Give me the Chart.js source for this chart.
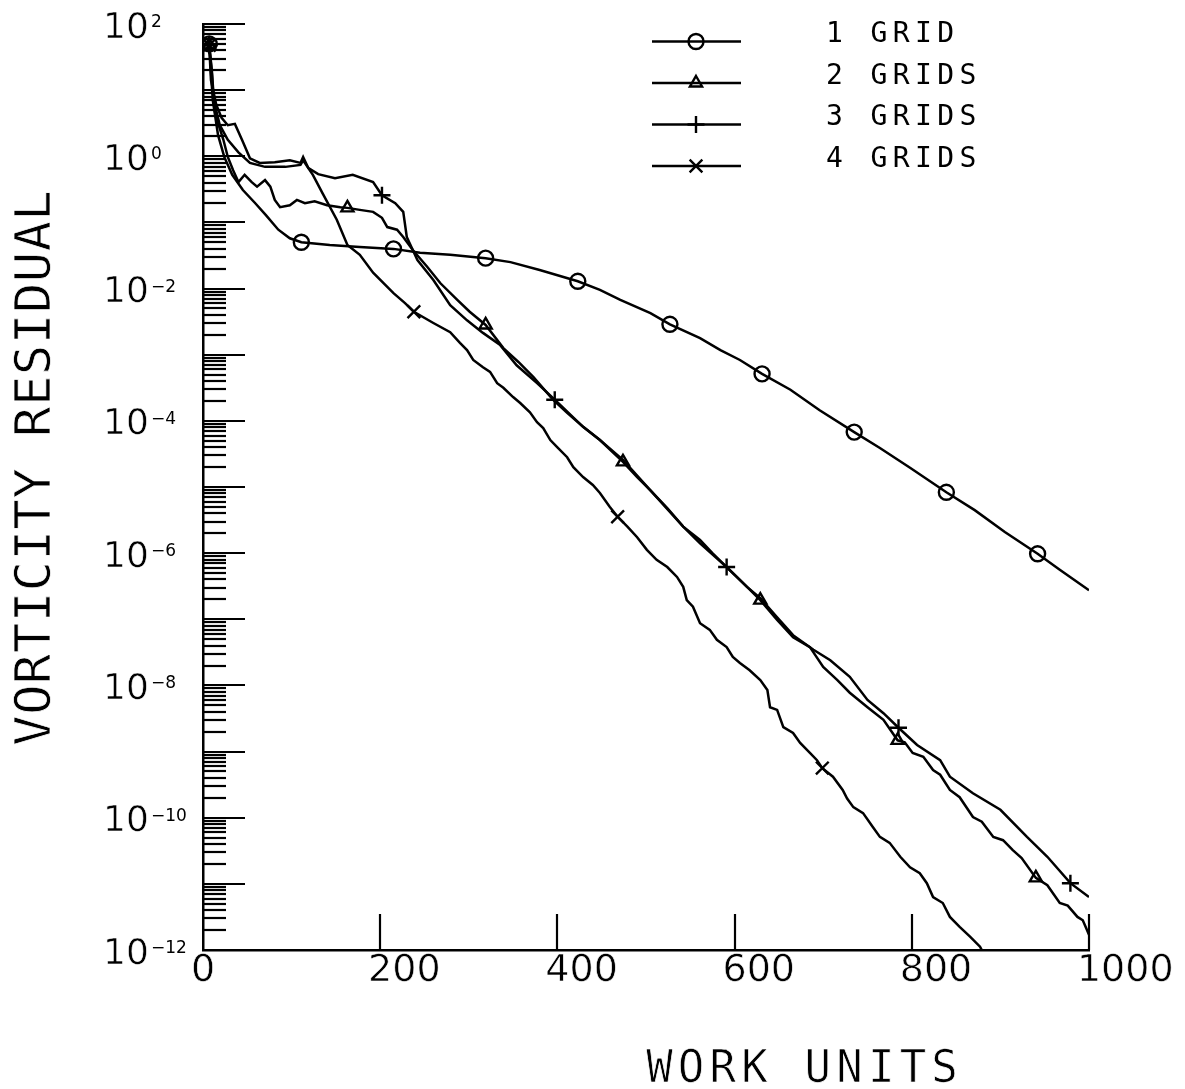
<!DOCTYPE html>
<html>
<head>
<meta charset="utf-8">
<title>Vorticity residual vs work units</title>
<script src="https://cdn.jsdelivr.net/npm/chart.js@4.4.1/dist/chart.umd.min.js"></script>
<style>
  html, body { margin: 0; padding: 0; background: #fff; }
  #wrap { width: 1185px; height: 1089px; }
</style>
</head>
<body>
<div id="wrap"><canvas id="residualChart" width="1185" height="1089"></canvas></div>
<script>
// work units (x) and log10 of the vorticity residual (y) for each run,
// plus the work units where the run's symbol is plotted
const grid1X = [7, 11, 17, 24, 33, 45, 59, 71, 85, 98, 111, 143, 177, 215, 245, 279, 319, 347, 380, 403,
  423, 448, 471, 505, 527, 561, 584, 606, 631, 663, 696, 735, 764, 798, 839, 871, 905, 942, 967, 1000];
const grid1Log = [1.70, 0.85, 0.32, -0.01, -0.28, -0.51, -0.71, -0.89, -1.11, -1.24, -1.30, -1.34, -1.37, -1.40, -1.46, -1.49, -1.54, -1.60, -1.72, -1.81,
  -1.89, -2.02, -2.17, -2.37, -2.54, -2.75, -2.93, -3.08, -3.29, -3.53, -3.84, -4.17, -4.41, -4.71, -5.08, -5.35, -5.68, -6.01, -6.25, -6.56];
const grid1Marks = [7, 111, 215, 319, 423, 527, 631, 735, 839, 942];

const grid2X = [7, 10, 13, 17, 23, 28, 34, 40, 47, 55, 61, 70, 76, 81, 87, 98, 106, 115, 126, 140,
  155, 163, 177, 192, 202, 208, 219, 226, 237, 253, 268, 287, 301, 319, 339, 356, 373, 395, 411, 429,
  448, 462, 474, 490, 505, 524, 542, 561, 575, 591, 614, 629, 648, 666, 685, 700, 716, 730, 750, 768,
  784, 792, 801, 813, 824, 832, 843, 854, 869, 879, 892, 903, 914, 924, 940, 953, 967, 976, 987, 993,
  1000];
const grid2Log = [1.68, 1.30, 0.70, 0.50, 0.25, -0.01, -0.21, -0.39, -0.28, -0.39, -0.46, -0.36, -0.46, -0.66, -0.77, -0.74, -0.66, -0.71, -0.68, -0.74,
  -0.77, -0.78, -0.81, -0.84, -0.93, -1.07, -1.11, -1.22, -1.42, -1.67, -1.92, -2.17, -2.35, -2.55, -2.90, -3.11, -3.34, -3.68, -3.88, -4.09,
  -4.29, -4.47, -4.62, -4.85, -5.05, -5.32, -5.60, -5.80, -6.00, -6.21, -6.51, -6.71, -7.01, -7.27, -7.42, -7.72, -7.92, -8.11, -8.33, -8.52,
  -8.83, -8.86, -9.02, -9.08, -9.28, -9.35, -9.58, -9.69, -9.99, -10.06, -10.29, -10.34, -10.49, -10.61, -10.91, -11.02, -11.29, -11.33, -11.50, -11.55,
  -11.77];
const grid2Marks = [7, 163, 319, 474, 629, 784, 940];

const grid3X = [7, 9, 15, 21, 28, 36, 44, 53, 64, 81, 98, 110, 113, 119, 130, 149, 169, 192, 202, 217,
  226, 230, 242, 260, 279, 298, 316, 335, 354, 377, 397, 429, 448, 474, 505, 542, 561, 591, 614, 629,
  648, 666, 689, 708, 730, 750, 768, 785, 806, 832, 843, 869, 900, 930, 953, 979, 1000];
const grid3Log = [1.68, 1.15, 0.78, 0.58, 0.47, 0.49, 0.25, -0.03, -0.10, -0.09, -0.06, -0.10, -0.01, -0.18, -0.27, -0.33, -0.28, -0.39, -0.59, -0.71,
  -0.84, -1.22, -1.57, -1.87, -2.25, -2.48, -2.67, -2.85, -3.16, -3.43, -3.68, -4.09, -4.29, -4.59, -5.05, -5.60, -5.85, -6.21, -6.51, -6.68,
  -6.97, -7.24, -7.46, -7.62, -7.87, -8.22, -8.42, -8.64, -8.90, -9.13, -9.38, -9.63, -9.88, -10.29, -10.59, -10.99, -11.20];
const grid3Marks = [7, 202, 397, 591, 785, 979];

const grid4X = [7, 10, 12, 19, 28, 40, 53, 70, 93, 110, 113, 124, 135, 151, 163, 177, 192, 215, 228, 238,
  260, 279, 290, 298, 305, 316, 324, 332, 339, 350, 358, 369, 377, 384, 392, 400, 411, 418, 429, 440,
  448, 459, 468, 479, 490, 501, 512, 524, 535, 542, 546, 553, 561, 572, 580, 591, 598, 606, 617, 629,
  637, 640, 648, 655, 666, 674, 685, 693, 699, 711, 722, 727, 734, 745, 756, 764, 775, 787, 798, 809,
  817, 824, 835, 843, 854, 866, 877, 879];
const grid4Log = [1.68, 1.25, 0.85, 0.47, 0.25, 0.06, -0.10, -0.16, -0.16, -0.13, -0.06, -0.28, -0.56, -0.96, -1.34, -1.49, -1.76, -2.07, -2.22, -2.35,
  -2.52, -2.66, -2.82, -2.93, -3.08, -3.19, -3.26, -3.43, -3.50, -3.64, -3.73, -3.87, -4.02, -4.11, -4.29, -4.40, -4.55, -4.70, -4.85, -4.97,
  -5.09, -5.30, -5.45, -5.60, -5.76, -5.95, -6.10, -6.21, -6.36, -6.51, -6.71, -6.81, -7.06, -7.16, -7.31, -7.42, -7.57, -7.66, -7.77, -7.92,
  -8.07, -8.33, -8.37, -8.63, -8.72, -8.87, -9.02, -9.13, -9.25, -9.38, -9.58, -9.71, -9.84, -9.93, -10.14, -10.29, -10.38, -10.59, -10.75, -10.84,
  -10.99, -11.20, -11.29, -11.50, -11.65, -11.80, -11.95, -12.00];
const grid4Marks = [7, 238, 468, 699];

const seriesNames = ['1 GRID', '2 GRIDS', '3 GRIDS', '4 GRIDS'];
const xTickValues = [0, 200, 400, 600, 800, 1000];
const yLabelExps = [2, 0, -2, -4, -6, -8, -10, -12];
const xTitle = 'WORK UNITS';
const yTitle = 'VORTICITY RESIDUAL';

const ink = '#000';
const MONO = '"DejaVu Sans Mono", "Liberation Mono", monospace';
const SANS = '"DejaVu Sans", "Liberation Sans", sans-serif';

function makeSet(label, xs, logs, marks, style, radius) {
  return {
    label: label,
    data: xs.map((v, i) => ({ x: v, y: Math.pow(10, logs[i]) })),
    borderColor: ink,
    borderWidth: 2.5,
    tension: 0,
    fill: false,
    pointStyle: style,
    pointRadius: c => marks.includes(xs[c.dataIndex]) ? radius : 0,
    pointBorderColor: ink,
    pointBackgroundColor: 'rgba(0,0,0,0)',
    pointBorderWidth: 2.4,
    _legendRadius: radius
  };
}

const datasets = [
  makeSet(seriesNames[0], grid1X, grid1Log, grid1Marks, 'circle', 7.5),
  makeSet(seriesNames[1], grid2X, grid2Log, grid2Marks, 'triangle', 7),
  makeSet(seriesNames[2], grid3X, grid3Log, grid3Marks, 'cross', 8.5),
  makeSet(seriesNames[3], grid4X, grid4Log, grid4Marks, 'crossRot', 9)
];

// pen-plotter style text: fill, then shave the edges a little with a white outline
function penText(ctx, text, x, y, shave) {
  ctx.fillText(text, x, y);
  if (!shave) return;
  ctx.save();
  ctx.strokeStyle = '#fff';
  ctx.lineWidth = shave;
  ctx.strokeText(text, x, y);
  ctx.restore();
}

// text with extra tracking; the trailing gap is left out when centring
function spacedText(ctx, text, x, y, spacing, align, shave) {
  ctx.letterSpacing = spacing + 'px';
  const w = ctx.measureText(text).width - spacing;
  ctx.textAlign = 'left';
  penText(ctx, text, align === 'center' ? x - w / 2 : x, y, shave);
  ctx.letterSpacing = '0px';
}

function seg(ctx, x1, y1, x2, y2) {
  ctx.beginPath();
  ctx.moveTo(x1, y1);
  ctx.lineTo(x2, y2);
  ctx.stroke();
}

// inward tick marks, decade labels, axis titles and the key
const plotterAxes = {
  id: 'plotterAxes',
  afterDraw(chart) {
    const { ctx, chartArea: area } = chart;
    const xs = chart.scales.x, ys = chart.scales.y;
    ctx.save();
    ctx.strokeStyle = ink;
    ctx.fillStyle = ink;
    ctx.lineWidth = 2.2;

    // log ticks: long at each decade, short at 2..9
    for (let e = -12; e <= 2; e++) {
      for (let m = 1; m <= 9; m++) {
        if (e === 2 && m > 1) break;
        const py = Math.round(ys.getPixelForValue(m * Math.pow(10, e)));
        seg(ctx, area.left, py, area.left + (m === 1 ? 42 : 23), py);
      }
    }
    xTickValues.forEach(v => {
      if (v === 0) return;
      const px = Math.round(xs.getPixelForValue(v));
      seg(ctx, px, area.bottom, px, area.bottom - 36);
    });

    // x labels: first digit sits over the tick
    ctx.textBaseline = 'alphabetic';
    ctx.font = '38px ' + SANS;
    xTickValues.forEach(v => {
      const px = xs.getPixelForValue(v);
      const s = String(v);
      const w0 = ctx.measureText(s[0]).width;
      ctx.textAlign = 'left';
      penText(ctx, s, px - w0 / 2, area.bottom + 31, 0.6);
    });

    // y labels: 10 with a raised exponent
    yLabelExps.forEach(e => {
      const py = ys.getPixelForValue(Math.pow(10, e));
      ctx.textAlign = 'left';
      ctx.font = '36px ' + SANS;
      penText(ctx, '10', 103, py + 13.5, 0.6);
      ctx.font = '17px ' + SANS;
      ctx.fillText(e < 0 ? '\u2212' + (-e) : String(e), 151, py + 3);
    });

    // axis titles
    ctx.font = '44px ' + MONO;
    spacedText(ctx, xTitle, 802, 1082, 5.2, 'center', 0.7);
    ctx.save();
    ctx.translate(50, 468);
    ctx.rotate(-Math.PI / 2);
    ctx.font = '50px ' + MONO;
    spacedText(ctx, yTitle, 0, 0, 0.8, 'center', 0.7);
    ctx.restore();

    // key: line with symbol, label on the same baseline
    chart.data.datasets.forEach((ds, i) => {
      const ly = 41.5 + i * 41.5;
      ctx.lineWidth = 2.4;
      seg(ctx, 652, ly, 741, ly);
      ctx.fillStyle = 'rgba(0,0,0,0)';
      Chart.helpers.drawPoint(ctx, {
        pointStyle: ds.pointStyle, radius: ds._legendRadius, rotation: 0, borderWidth: 2.4
      }, 696, ly);
      ctx.fillStyle = ink;
      ctx.font = '28px ' + MONO;
      spacedText(ctx, ds.label, 826, ly + 0.5, 5.4, 'left', 0);
    });
    ctx.restore();
  }
};

new Chart(document.getElementById('residualChart').getContext('2d'), {
  type: 'line',
  data: { datasets: datasets },
  options: {
    responsive: false,
    devicePixelRatio: 1,
    animation: false,
    events: [],
    layout: { padding: { left: 203, right: 96, top: 24, bottom: 139 } },
    plugins: { legend: { display: false }, tooltip: { enabled: false } },
    scales: {
      x: {
        type: 'linear', min: 0, max: 1000,
        grid: { display: false, drawTicks: false },
        ticks: { display: false },
        border: { color: ink, width: 2.5 }
      },
      y: {
        type: 'logarithmic', min: 1e-12, max: 100,
        grid: { display: false, drawTicks: false },
        ticks: { display: false },
        border: { color: ink, width: 2.5 }
      }
    }
  },
  plugins: [plotterAxes]
});
</script>
</body>
</html>
